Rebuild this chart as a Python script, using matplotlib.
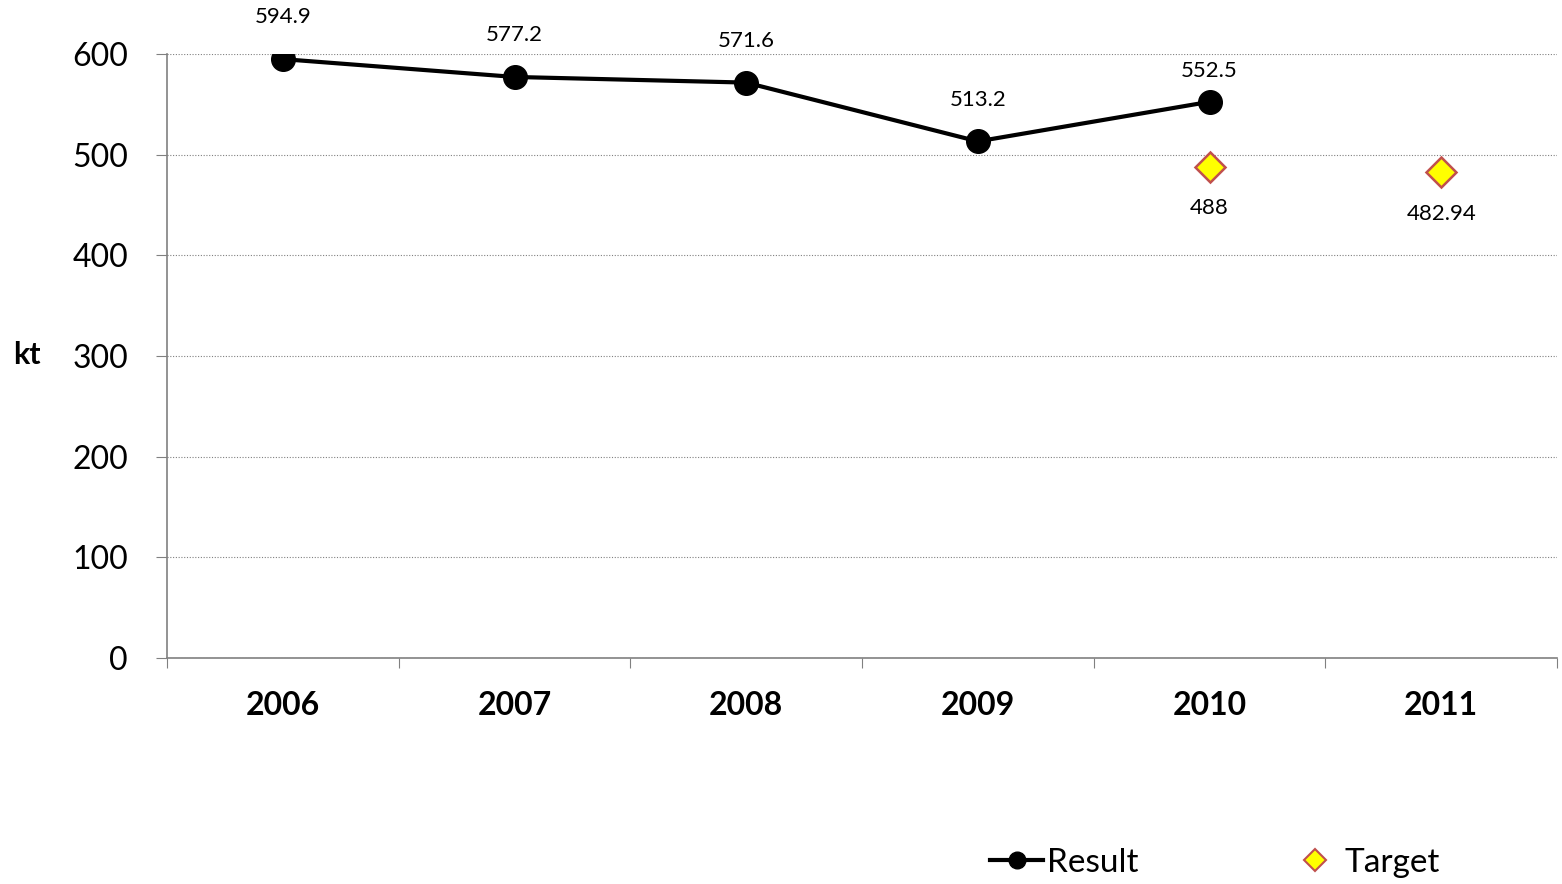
import matplotlib
matplotlib.use("Agg")
import matplotlib.pyplot as plt
from matplotlib.lines import Line2D

years = ["2006", "2007", "2008", "2009", "2010", "2011"]
result = [594.9, 577.2, 571.6, 513.2, 552.5]
target_years = ["2010", "2011"]
target = [488, 482.94]
target_labels = ["488", "482.94"]
yticks = [0, 100, 200, 300, 400, 500, 600]

plt.rcParams['font.family'] = ['Lato', 'DejaVu Sans']

fig = plt.figure(figsize=(15.62, 8.84), dpi=100)
ax = fig.add_axes([167/1562, 1-658/884, 1390/1562, 604/884])

xr = list(range(len(result)))
ax.plot(xr, result, color='black', lw=3, marker='o', ms=17, zorder=3)
xt = [years.index(y) for y in target_years]
ax.plot(xt, target, ls='none', marker='D', ms=15, mfc='#FFFF00', mec='#C0504D', mew=1.8, zorder=3)

res_off = [30, 30, 30, 30, 22]
for x, v, o in zip(xr, result, res_off):
    ax.annotate(f"{v}", (x, v), xytext=(0, o), textcoords='offset points',
                ha='center', va='center', fontsize=16)
for x, v, s in zip(xt, target, target_labels):
    ax.annotate(s, (x, v), xytext=(0, -30), textcoords='offset points',
                ha='center', va='center', fontsize=16)

ax.set_xlim(-0.5, len(years) - 0.5)
ax.set_ylim(0, 600)
ax.set_yticks(yticks)
ax.set_yticklabels([str(t) for t in yticks], fontsize=23)
ax.set_xticks([i - 0.5 for i in range(len(years) + 1)])
ax.set_xticklabels([])
ax.set_xticks(range(len(years)), minor=True)
ax.set_xticklabels(years, minor=True, fontsize=23, fontweight='bold')
ax.tick_params(axis='x', which='minor', length=0, pad=24)
ax.tick_params(axis='x', which='major', length=7, color='#808080', direction='out')
ax.tick_params(axis='y', length=8, color='#808080', direction='out', pad=20)

ax.grid(axis='y', ls=(0, (1, 1.5)), color='#808080', lw=0.8)
ax.set_axisbelow(True)
for s in ['top', 'right']:
    ax.spines[s].set_visible(False)
for s in ['left', 'bottom']:
    ax.spines[s].set_color('#808080')
    ax.spines[s].set_linewidth(1.2)

fig.text(27/1562, 1-355/884, "kt", fontsize=22, fontweight='bold', ha='center', va='center')

handles = [Line2D([], [], color='black', lw=3, marker='o', ms=12),
           Line2D([], [], ls='none', marker='D', ms=11, mfc='#FFFF00', mec='#C0504D', mew=1.5)]
fig.legend(handles, ["Result", "Target"], loc='center', bbox_to_anchor=(1215/1562, 1-863/884),
           ncol=2, frameon=False, fontsize=24, columnspacing=4.5, handlelength=1.6, handletextpad=0.1)

fig.savefig("out.png", dpi=100)
